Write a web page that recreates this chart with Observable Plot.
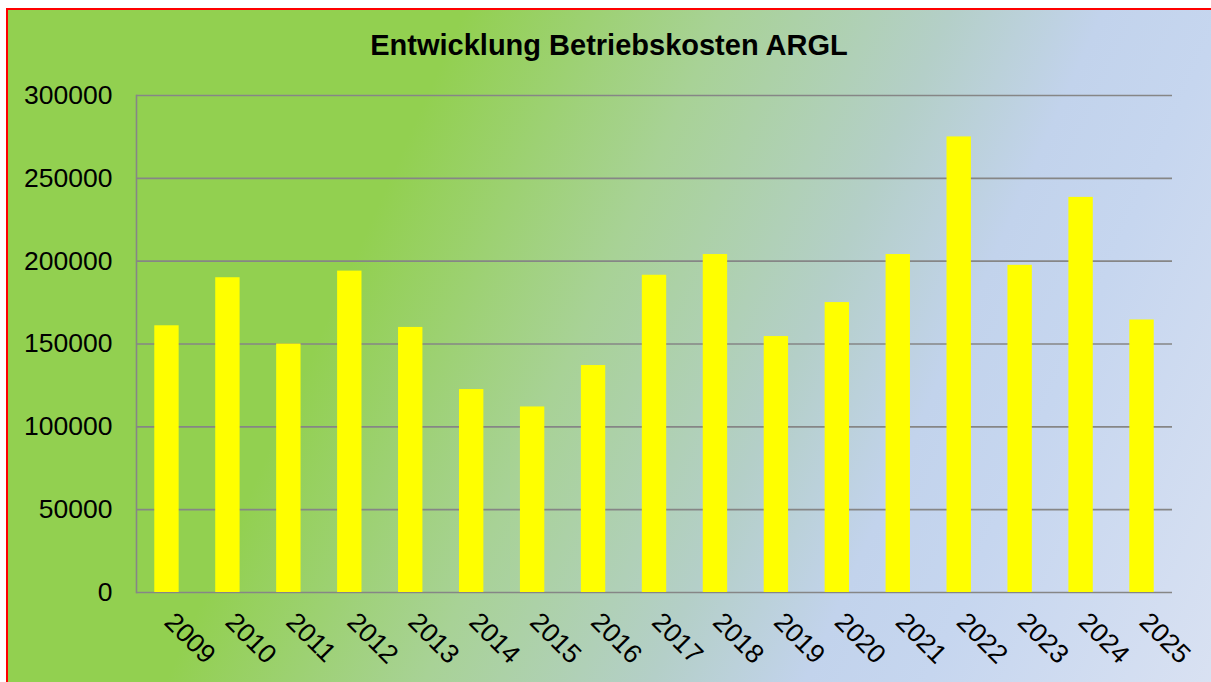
<!DOCTYPE html>
<html>
<head>
<meta charset="utf-8">
<script src="https://cdn.jsdelivr.net/npm/d3@7"></script>
<script src="https://cdn.jsdelivr.net/npm/@observablehq/plot@0.6"></script>
<style>
  html, body { margin: 0; padding: 0; background: #ffffff; overflow: hidden; width: 1211px; height: 682px; }
  #frame {
    position: absolute; left: 6px; top: 8px; width: 1215px; height: 690px;
    border-left: 2px solid #ff0000; border-top: 2px solid #ff0000;
    background: linear-gradient(114deg, #92D050 0%, #92D050 30%, #A8D296 47%, #B4CFC8 62%, #C2D3EC 72%, #C6D6EF 80%, #DAE2F2 100%);
  }
  #title {
    position: absolute; left: 0; width: 1218px; top: 31px; text-align: center;
    font-family: "Liberation Sans", Arial, sans-serif; font-weight: bold; font-size: 29px; line-height: 29px; color: #000;
  }
  #chart { position: absolute; left: 0; top: 0; }
</style>
</head>
<body>
<div id="frame"></div>
<div id="title">Entwicklung Betriebskosten ARGL</div>
<div id="chart"></div>
<script>
const years = ["2009","2010","2011","2012","2013","2014","2015","2016","2017","2018","2019","2020","2021","2022","2023","2024","2025"];
const costs = [161000,190000,150000,194000,160000,122500,112000,137000,191500,204000,154500,175000,204000,275000,197500,238500,164500];
const yTicks = [0,50000,100000,150000,200000,250000,300000];

const data = years.map((y, i) => ({year: y, value: costs[i]}));

const chart = Plot.plot({
  width: 1211,
  height: 682,
  marginLeft: 136,
  marginRight: 39,
  marginTop: 95,
  marginBottom: 90,
  style: {background: "transparent", color: "#000", fontFamily: "'Liberation Sans', Arial, sans-serif", fontSize: "26.5px"},
  x: {type: "band", domain: years, paddingInner: 0.6, paddingOuter: 0.3, round: false, label: null},
  y: {domain: [0, 300000], label: null},
  marks: [
    Plot.ruleY(yTicks, {stroke: "#868686", strokeWidth: 1.6, strokeOpacity: 1}),
    Plot.frame({anchor: "left", stroke: "#868686", strokeWidth: 1.6}),
    Plot.barY(data, {x: "year", y: "value", fill: "#FFFF00"}),
    Plot.axisY({ticks: yTicks, tickSize: 0, tickPadding: 24, tickFormat: d => String(d), fontSize: 26.5, label: null}),
    Plot.axisX({tickSize: 0, tickRotate: 45, tickPadding: 20, dx: 2, dy: 5, fontSize: 26.5, label: null})
  ]
});
document.getElementById("chart").appendChild(chart);
</script>
</body>
</html>
